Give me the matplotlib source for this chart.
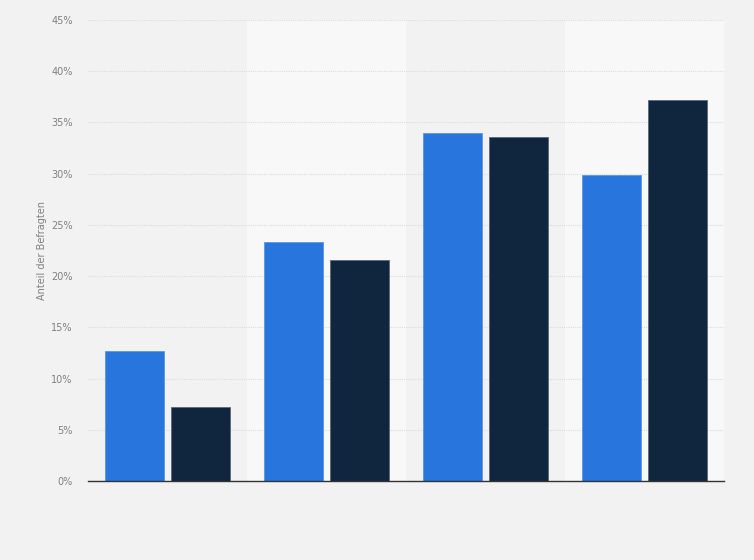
import matplotlib
matplotlib.use("Agg")
import matplotlib.pyplot as plt
import numpy as np

categories = ["1", "2", "3", "4"]
series_a = [12.7, 23.3, 34.0, 29.9]
series_b = [7.2, 21.6, 33.6, 37.2]
yticks = [0, 5, 10, 15, 20, 25, 30, 35, 40, 45]
ylabel = "Anteil der Befragten"

fig = plt.figure(figsize=(7.54, 5.6), dpi=100, facecolor="#f2f2f2")
ax = fig.add_axes([88/754, 1-481/560, (724-88)/754, (481-20)/560])
ax.set_facecolor("#f2f2f2")

x = np.arange(len(categories))
for i in x:
    if i % 2 == 1:
        ax.axvspan(i-0.5, i+0.5, color="#f8f8f8", zorder=0, lw=0)

w = 0.377
off = 0.2075
ax.bar(x-off, series_a, width=w, color="#2876dd", edgecolor="#5b95e4", linewidth=0.6, zorder=3)
ax.bar(x+off, series_b, width=w, color="#10263e", edgecolor="#5a6878", linewidth=0.6, zorder=3)

ax.set_xlim(-0.5, 3.5)
ax.set_ylim(0, 45)
ax.set_yticks(yticks)
ax.set_yticklabels([f"{t}%" for t in yticks], fontsize=7, color="#808080")
ax.set_xticks([])
ax.yaxis.grid(True, color="#dcdcdc", linestyle=(0, (1, 1)), linewidth=0.8, zorder=1)
ax.set_axisbelow(True)
for s in ["top", "right", "left"]:
    ax.spines[s].set_visible(False)
ax.spines["bottom"].set_color("#333333")
ax.spines["bottom"].set_linewidth(1.0)
ax.spines["bottom"].set_zorder(4)
ax.tick_params(axis="y", length=0, pad=11)
ax.set_ylabel(ylabel, fontsize=7, color="#808080", labelpad=3)

fig.savefig("out.png", dpi=100, facecolor=fig.get_facecolor())
